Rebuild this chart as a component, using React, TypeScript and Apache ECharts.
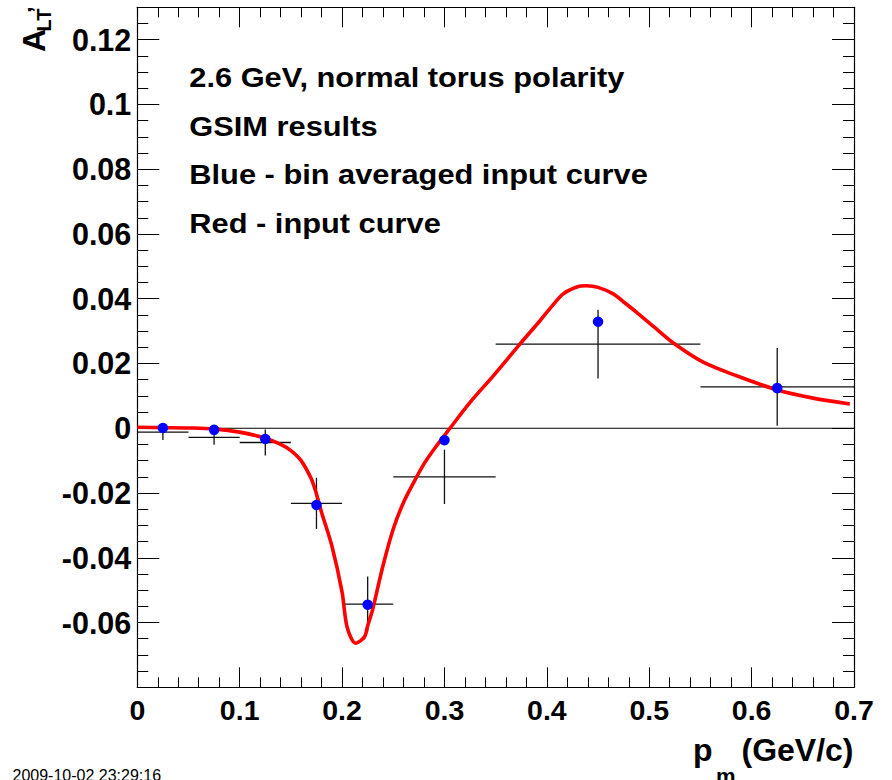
import React, { useEffect, useRef } from "react";
import * as echarts from "echarts";

// Red input curve (x in GeV/c, A_LT')
const curveX = [0, 0.025, 0.05, 0.075, 0.1, 0.125, 0.14, 0.15, 0.16, 0.17, 0.175, 0.18, 0.19, 0.2, 0.205, 0.2133, 0.2217, 0.225, 0.23, 0.24, 0.25, 0.26, 0.27, 0.28, 0.29, 0.3054, 0.325, 0.3477, 0.3737, 0.3933, 0.405, 0.416, 0.43, 0.4389, 0.45, 0.4648, 0.475, 0.4877, 0.505, 0.525, 0.5527, 0.5853, 0.6254, 0.66, 0.696];
const curveY = [0.0003, 0.0002, 0.0001, -0.0002, -0.0012, -0.0031, -0.005, -0.0069, -0.01, -0.0157, -0.0203, -0.026, -0.0363, -0.0506, -0.0615, -0.0664, -0.0645, -0.061, -0.0558, -0.0424, -0.0311, -0.0229, -0.0167, -0.011, -0.0064, 0.0, 0.008, 0.0162, 0.026, 0.0332, 0.0377, 0.0415, 0.0437, 0.044, 0.0435, 0.0415, 0.039, 0.0358, 0.0312, 0.026, 0.0204, 0.0162, 0.0118, 0.0093, 0.0075];

// GSIM results (black crosses)
const binLo = [0, 0.05, 0.1, 0.15, 0.2, 0.25, 0.35, 0.55];
const binHi = [0.05, 0.1, 0.15, 0.2, 0.25, 0.35, 0.55, 0.7];
const binCenter = [0.025, 0.075, 0.125, 0.175, 0.225, 0.3, 0.45, 0.625];
const gsimY = [-0.0012, -0.0028, -0.0044, -0.0232, -0.0543, -0.015, 0.026, 0.0128];
const gsimErr = [0.0024, 0.0023, 0.004, 0.0079, 0.0085, 0.0084, 0.0106, 0.012];

// Blue - bin averaged input curve
const blueY = [0.0001, -0.0005, -0.0033, -0.0237, -0.0545, -0.0037, 0.0329, 0.0124];

// Zero reference line
const zeroX = [0, 0.7];
const zeroY = [0, 0];

const annotations = [
  "2.6 GeV, normal torus polarity",
  "GSIM results",
  "Blue - bin averaged input curve",
  "Red - input curve",
];
const timestamp = "2009-10-02 23:29:16";

const FONT = "'Liberation Sans', Arial, Helvetica, sans-serif";

const fmt = (v: number) => {
  const r = parseFloat(v.toFixed(4));
  return r === 0 ? "0" : String(r);
};

export default function App() {
  const ref = useRef<HTMLDivElement>(null);

  useEffect(() => {
    if (!ref.current) return;
    const chart = echarts.init(ref.current, undefined, { renderer: "svg" });

    const L = 137.3, T = 7.3, R = 854, B = 687.3;

    const axisLineStyle = { color: "#000", width: 1.2 };
    const baseX = {
      type: "value" as const,
      min: 0,
      max: 0.7,
      interval: 0.1,
      splitLine: { show: false },
      axisLine: { show: true, onZero: false, lineStyle: axisLineStyle },
      axisTick: { show: true, inside: true, length: 20, lineStyle: { color: "#000", width: 1 } },
      minorTick: { show: true, splitNumber: 5, length: 10, lineStyle: { color: "#000", width: 1 } },
    };
    const baseYMajor = {
      type: "value" as const,
      min: -0.08,
      max: 0.13,
      interval: 0.02,
      splitLine: { show: false },
      axisLine: { show: true, onZero: false, lineStyle: axisLineStyle },
      axisTick: { show: true, inside: true, length: 22, lineStyle: { color: "#000", width: 1 } },
    };
    const baseYMinor = {
      type: "value" as const,
      min: -0.08,
      max: 0.13,
      interval: 0.005,
      splitLine: { show: false },
      axisLine: { show: false, onZero: false },
      axisTick: { show: true, inside: true, length: 11, lineStyle: { color: "#000", width: 1 } },
      axisLabel: { show: false },
    };

    const crossData = binCenter.map((c, i) => [c, gsimY[i], binLo[i], binHi[i], gsimErr[i]]);

    const txt = (text: string, size: number, align: string, bold = true) => ({
      text,
      fontSize: size,
      fontWeight: bold ? "bold" : "normal",
      fontFamily: FONT,
      fill: "#000",
      align,
      verticalAlign: "middle",
      textAlign: align,
      textVerticalAlign: "middle",
    });

    const graphics: any[] = [];
    annotations.forEach((t, i) => {
      graphics.push({ type: "text", x: 189.3, y: 77 + i * 48.7, scaleX: 1.1, style: txt(t, 28, "left") });
    });
    // x axis title: p_m (GeV/c)
    graphics.push({ type: "text", x: 853.5, y: 749.5, style: txt("(GeV/c)", 32, "right") });
    graphics.push({ type: "text", x: 693, y: 749.5, style: txt("p", 32, "left") });
    graphics.push({ type: "text", x: 716, y: 776, style: txt("m", 22, "left") });
    // y axis title: A_LT'
    graphics.push({ type: "text", x: 34, y: 52, rotation: Math.PI / 2, style: txt("A", 32, "left") });
    graphics.push({ type: "text", x: 44, y: 31.5, rotation: Math.PI / 2, style: txt("LT", 20, "left") });
    graphics.push({ type: "text", x: 36, y: 13, rotation: Math.PI / 2, style: txt("\u2019", 24, "left") });
    // timestamp
    graphics.push({ type: "text", x: 12.5, y: 775, style: txt(timestamp, 16, "left", false) });

    chart.setOption({
      animation: false,
      backgroundColor: "#fff",
      grid: { left: L, top: T, width: R - L, height: B - T, containLabel: false },
      xAxis: [
        {
          ...baseX,
          position: "bottom",
          axisLabel: {
            show: true,
            fontSize: 28.5,
            fontWeight: "bold",
            fontFamily: FONT,
            color: "#000",
            margin: 9,
            lineHeight: 28,
            formatter: fmt,
          },
        },
        { ...baseX, position: "top", axisLabel: { show: false } },
      ],
      yAxis: [
        {
          ...baseYMajor,
          position: "left",
          axisLabel: {
            show: true,
            fontSize: 30.5,
            fontWeight: "bold",
            fontFamily: FONT,
            color: "#000",
            margin: 6,
            showMaxLabel: false,
            showMinLabel: false,
            formatter: fmt,
          },
        },
        { ...baseYMinor, position: "left" },
        { ...baseYMajor, position: "right", axisLabel: { show: false } },
        { ...baseYMinor, position: "right" },
      ],
      graphic: graphics,
      series: [
        {
          type: "line",
          name: "zero",
          data: zeroX.map((x, i) => [x, zeroY[i]]),
          symbol: "none",
          lineStyle: { color: "#000", width: 1 },
          z: 1,
          silent: true,
        },
        {
          type: "custom",
          name: "GSIM results",
          data: crossData,
          encode: { x: 0, y: 1 },
          z: 2,
          renderItem: (params: any, api: any) => {
            const y = api.value(1);
            const xlo = api.value(2);
            const xhi = api.value(3);
            const err = api.value(4);
            const xc = api.value(0);
            const h0 = api.coord([xlo, y]);
            const h1 = api.coord([xhi, y]);
            const v0 = api.coord([xc, y - err]);
            const v1 = api.coord([xc, y + err]);
            const st = { stroke: "#111", lineWidth: 1.3 };
            return {
              type: "group",
              children: [
                { type: "line", shape: { x1: h0[0], y1: h0[1], x2: h1[0], y2: h1[1] }, style: st },
                { type: "line", shape: { x1: v0[0], y1: v0[1], x2: v1[0], y2: v1[1] }, style: st },
              ],
            };
          },
        },
        {
          type: "line",
          name: "input curve",
          data: curveX.map((x, i) => [x, curveY[i]]),
          symbol: "none",
          smooth: 0.3,
          lineStyle: { color: "#ff0000", width: 3.6 },
          z: 3,
        },
        {
          type: "scatter",
          name: "bin averaged input curve",
          data: binCenter.map((x, i) => [x, blueY[i]]),
          symbol: "circle",
          symbolSize: 10.5,
          itemStyle: { color: "#0000ff", opacity: 1 },
          z: 4,
        },
      ],
    });

    return () => chart.dispose();
  }, []);

  return (
    <div
      ref={ref}
      style={{ position: "absolute", left: 0, top: 0, width: 892, height: 780, background: "#fff" }}
    />
  );
}
